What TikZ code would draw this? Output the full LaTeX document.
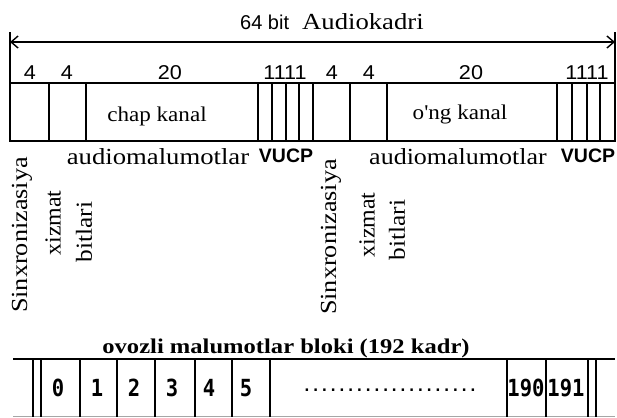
\documentclass[tikz,border=0pt]{standalone}
\usepackage{fontspec}
\setmainfont{Liberation Serif}
\newfontfamily\sansf{Liberation Sans}
\newfontfamily\monof{DejaVu Sans Mono}
\usetikzlibrary{arrows.meta}

% horizontally widened text
\newcommand{\wide}[2]{\scalebox{#1}[1]{#2}}

\begin{document}
\begin{tikzpicture}[x=1bp,y=-1bp,
  frame/.style={line width=1.7bp},
  dimline/.style={line width=1.4bp,{Straight Barb[length=7bp,width=12bp]}-{Straight Barb[length=7bp,width=12bp]}},
  bitnum/.style={inner sep=0pt,font=\sansf\fontsize{20bp}{22bp}\selectfont},
  celltext/.style={inner sep=0pt,font=\fontsize{21bp}{24bp}\selectfont},
  fieldname/.style={inner sep=0pt,font=\fontsize{23bp}{25bp}\selectfont},
  flags/.style={inner sep=0pt,font=\sansf\bfseries\fontsize{19.5bp}{21bp}\selectfont},
  vlabel/.style={inner sep=0pt,rotate=90,font=\fontsize{23bp}{25bp}\selectfont},
  blockno/.style={inner sep=0pt,font=\monof\bfseries\fontsize{20.5bp}{22bp}\selectfont},
  blocktitle/.style={inner sep=0pt,font=\bfseries\fontsize{21bp}{23bp}\selectfont}
]
\useasboundingbox[fill=white] (0,0) rectangle (617,417);

% ---- audio frame: 64 bits ----
\node[inner sep=0pt,anchor=base west] (t64) at (240,29)
  {\sansf\fontsize{20bp}{22bp}\selectfont 64 bit};
\node[inner sep=0pt,anchor=base west] (tak) at (302,29)
  {\fontsize{23bp}{25bp}\selectfont\wide{1.16}{Audiokadri}};

\coordinate (aL) at (10,42);
\coordinate (aR) at (615,42);
\draw[dimline] (aL) -- (aR);

\draw[frame] (10,32) -- (10,141) -- (615,141) -- (615,32);
\draw[frame] (10,83) -- (615,83);
\foreach \x in {49,86,258,272,286,299,313,350,387,557,572,587,600}
  \draw[frame] (\x,83) -- (\x,141);

% bit counts
\foreach \x/\t [count=\i] in {30/4,67/4,170/20,285/1111,332/4,369/4,471/20,587/1111}
  \node[bitnum,anchor=base] (n\i) at (\x,79) {\wide{1.08}{\t}};

% channel fields
\node[celltext] (lch) at (157,116) {\wide{1.1}{chap kanal}};
\node[celltext] (rch) at (460,114) {\wide{1.1}{o\textquotesingle ng kanal}};

\node[fieldname,anchor=base] (la) at (158,164) {\wide{1.16}{audiomalumotlar}};
\node[fieldname,anchor=base] (ra) at (458,164) {\wide{1.13}{audiomalumotlar}};
\node[flags,anchor=base] (lf) at (286,162) {VUCP};
\node[flags,anchor=base] (rf) at (588,162) {VUCP};

% vertical captions under the sync and service fields
\node[vlabel] (ls) at (22,235)  {\wide{1.14}{Sinxronizasiya}};
\node[vlabel] (lx) at (53,223)  {\wide{1.04}{xizmat}};
\node[vlabel] (lb) at (84,232)  {\wide{1.1}{bitlari}};
\node[vlabel] (rs) at (331,237) {\wide{1.14}{Sinxronizasiya}};
\node[vlabel] (rx) at (367,225) {\wide{1.04}{xizmat}};
\node[vlabel] (rb) at (397,230) {\wide{1.1}{bitlari}};

% ---- block of 192 frames ----
\node[blocktitle,anchor=base] (bt) at (286,353)
  {\wide{1.17}{ovozli malumotlar bloki (192 kadr)}};

\draw[frame] (13,359) -- (615,359);
\draw[line width=1bp,black!35] (13,416) -- (615,416);
\foreach \x in {33,41,80,117,155,195,232,270,507,546,588,596}
  \draw[frame] (\x,359) -- (\x,417);

\foreach \x/\t [count=\i] in {58/0,97/1,134/2,172/3,209/4,246/5,526/190,566/191}
  \node[blockno] (b\i) at (\x,388) {\scalebox{1}[1.15]{\t}};
\node[inner sep=0pt,anchor=base,font=\monof\bfseries\fontsize{14.5bp}{16bp}\selectfont]
  (dots) at (390,391) {....................};
\end{tikzpicture}
\end{document}
